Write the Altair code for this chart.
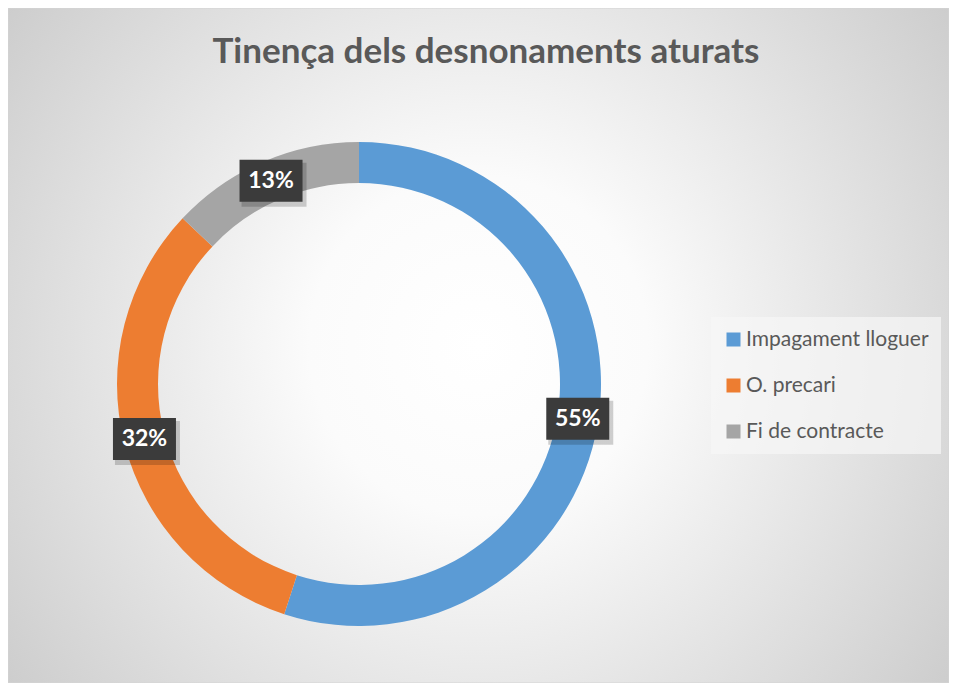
import altair as alt
import pandas as pd

title_text = "Tinença dels desnonaments aturats"
categories = ["Impagament lloguer", "O. precari", "Fi de contracte"]
values = [55, 32, 13]
colors = ["#5B9BD5", "#ED7D31", "#A5A5A5"]

W, H = 941, 675
CX, CY = 351, 376
R_OUT, R_IN = 242, 201
R_LAB = (R_OUT + R_IN) / 2

df = pd.DataFrame({"category": categories, "value": values, "idx": list(range(len(values)))})

bg = alt.Chart(alt.Data(values=[{}])).mark_rect(
    fill={
        "gradient": "radial",
        "x1": 0.5, "y1": 0.5, "r1": 0,
        "x2": 0.5, "y2": 0.5, "r2": 0.72,
        "stops": [
            {"offset": 0, "color": "#ffffff"},
            {"offset": 0.25, "color": "#fbfbfb"},
            {"offset": 1, "color": "#c2c2c2"},
        ],
    },
    stroke="#d4d4d4",
    strokeWidth=1,
).encode(x=alt.value(0), x2=alt.value(W), y=alt.value(0), y2=alt.value(H))

title = alt.Chart(alt.Data(values=[{}])).mark_text(
    text=title_text, font="Lato", fontWeight="bold", fontSize=35,
    color="#595959", align="center", baseline="alphabetic",
).encode(x=alt.value(478), y=alt.value(55))

base = alt.Chart(df)

arc = base.mark_arc(outerRadius=R_OUT, innerRadius=R_IN).encode(
    theta=alt.Theta("value:Q", stack=True),
    order=alt.Order("idx:Q"),
    color=alt.Color(
        "category:N",
        scale=alt.Scale(domain=categories, range=colors),
        legend=alt.Legend(
            title=None, orient="none", legendX=703, legendY=309,
            direction="vertical",
            symbolType="square", symbolSize=196, symbolStrokeWidth=0,
            labelFont="Lato", labelFontSize=21, labelColor="#595959",
            labelOffset=2, labelLimit=400, rowPadding=24, padding=12,
            fillColor="rgba(246,246,246,0.7)",
        ),
    ),
    x=alt.value(CX),
    y=alt.value(CY),
)

lab = base.transform_joinaggregate(total="sum(value)").transform_window(
    cum="sum(value)", sort=[alt.SortField("idx")], frame=[None, 0]
).transform_calculate(
    mid="(datum.cum - datum.value/2) / datum.total * 2 * PI",
    lx=f"{CX} + {R_LAB} * sin(datum.mid)",
    ly=f"{CY} - {R_LAB} * cos(datum.mid)",
    label="format(datum.value / datum.total, '.0%')",
    bx1="datum.lx - 31.5", bx2="datum.lx + 31.5",
    by1="datum.ly - 21", by2="datum.ly + 21",
    sx1="datum.lx - 29.5", sx2="datum.lx + 35.5",
    sy1="datum.ly - 18", sy2="datum.ly + 26",
)

shadow = lab.mark_rect(color="#000000", opacity=0.18).encode(
    x=alt.X("sx1:Q", scale=None), x2="sx2:Q",
    y=alt.Y("sy1:Q", scale=None), y2="sy2:Q",
)
box = lab.mark_rect(color="#3b3b3b").encode(
    x=alt.X("bx1:Q", scale=None), x2="bx2:Q",
    y=alt.Y("by1:Q", scale=None), y2="by2:Q",
)
txt = lab.mark_text(
    font="Lato", fontWeight="bold", fontSize=23, color="#ffffff",
    align="center", baseline="middle",
).encode(
    x=alt.X("lx:Q", scale=None), y=alt.Y("ly:Q", scale=None), text="label:N",
)

chart = alt.layer(bg, title, arc, shadow, box, txt).properties(
    width=W, height=H,
    autosize=alt.AutoSizeParams(type="none"),
    padding=0,
).configure_view(stroke=None)

chart.save("out.html", embed_options={"renderer": "svg", "actions": False})
